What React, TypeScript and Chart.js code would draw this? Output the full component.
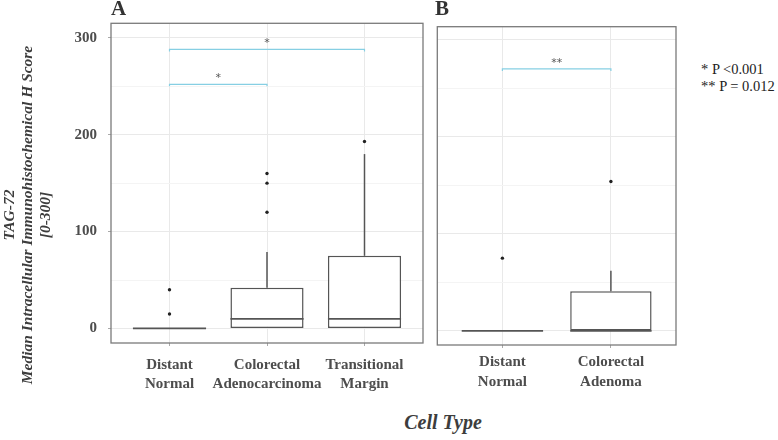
import React, { useEffect, useRef } from "react";
import { Chart, registerables } from "chart.js";

Chart.register(...registerables);

// ---------- data ----------
const categoriesA: string[][] = [
  ["Distant", "Normal"],
  ["Colorectal", "Adenocarcinoma"],
  ["Transitional", "Margin"],
];
const q1A = [0, 0, 0];
const medianA = [0, 10, 10];
const q3A = [0, 42, 75];
const whiskerLowA = [0, 0, 0];
const whiskerHighA = [0, 79, 180];
const outliersA: number[][] = [[40, 15], [160, 150, 120], [193]];
const bracketsA = [
  { from: 0, to: 1, y: 252, label: "*" },
  { from: 0, to: 2, y: 288, label: "*" },
];

const categoriesB: string[][] = [
  ["Distant", "Normal"],
  ["Colorectal", "Adenoma"],
];
const q1B = [0, 0];
const medianB = [0, 0];
const q3B = [0, 41];
const whiskerLowB = [0, 0];
const whiskerHighB = [0, 62];
const outliersB: number[][] = [[75], [154]];
const bracketsB = [{ from: 0, to: 1, y: 270, label: "**" }];

const yMajorTicks = [0, 100, 200, 300];
const yMinorTicks = [50, 150, 250];
const legendLines = ["* P <0.001", "** P = 0.012"];

// ---------- styles ----------
const SERIF = '"Liberation Serif", "Times New Roman", serif';
const MAJOR = "#e9e9e9";
const MINOR = "#f4f4f4";
const BOX = "#555555";
const BORDER = "#7a7a7a";
const BRACKET = "#86cfe3";
const TEXT = "#4d4d4d";

type Bracket = { from: number; to: number; y: number; label: string };

function boxPlugin(
  q1: number[],
  med: number[],
  q3: number[],
  lo: number[],
  hi: number[],
  brackets: Bracket[]
) {
  return {
    id: "boxExtras",
    afterDatasetsDraw(chart: any) {
      const { ctx, chartArea: a, scales } = chart;
      const xs = scales.x;
      const ys = scales.y;
      const meta = chart.getDatasetMeta(0);
      ctx.save();
      ctx.strokeStyle = BOX;
      for (let i = 0; i < med.length; i++) {
        const el: any = meta.data[i];
        const cx = xs.getPixelForValue(i);
        const half = el.width / 2;
        ctx.lineWidth = 1.5;
        ctx.beginPath();
        if (hi[i] > q3[i]) {
          ctx.moveTo(cx, ys.getPixelForValue(q3[i]));
          ctx.lineTo(cx, ys.getPixelForValue(hi[i]));
        }
        if (lo[i] < q1[i]) {
          ctx.moveTo(cx, ys.getPixelForValue(q1[i]));
          ctx.lineTo(cx, ys.getPixelForValue(lo[i]));
        }
        ctx.stroke();
        ctx.lineWidth = 1.7;
        const my = ys.getPixelForValue(med[i]);
        ctx.beginPath();
        ctx.moveTo(cx - half, my);
        ctx.lineTo(cx + half, my);
        ctx.stroke();
      }
      ctx.strokeStyle = BRACKET;
      ctx.lineWidth = 1.2;
      ctx.fillStyle = "#555";
      ctx.font = '11px "DejaVu Sans", sans-serif';
      ctx.textAlign = "center";
      ctx.textBaseline = "alphabetic";
      for (const b of brackets) {
        const x0 = xs.getPixelForValue(b.from);
        const x1 = xs.getPixelForValue(b.to);
        const by = ys.getPixelForValue(b.y);
        ctx.beginPath();
        ctx.moveTo(x0, by + 2);
        ctx.lineTo(x0, by);
        ctx.lineTo(x1, by);
        ctx.lineTo(x1, by + 2);
        ctx.stroke();
        ctx.fillText(b.label, (x0 + x1) / 2, by - 3);
      }
      ctx.strokeStyle = BORDER;
      ctx.lineWidth = 1.3;
      ctx.strokeRect(a.left, a.top, a.right - a.left, a.bottom - a.top);
      ctx.restore();
    },
  };
}

function makeConfig(opts: {
  cats: string[][];
  q1: number[];
  med: number[];
  q3: number[];
  lo: number[];
  hi: number[];
  outliers: number[][];
  brackets: Bracket[];
  yMin: number;
  yMax: number;
  showY: boolean;
  yWidth: number;
  xHeight: number;
  xPad: number;
  padding: { top: number; right: number; bottom: number; left: number };
}): any {
  const n = opts.cats.length;
  const idx = opts.cats.map((_, i) => i);
  const gridVals = [...yMajorTicks, ...yMinorTicks].sort((a, b) => a - b);
  const outPts: { x: number; y: number }[] = [];
  opts.outliers.forEach((arr, i) => arr.forEach((v) => outPts.push({ x: i, y: v })));
  return {
    type: "bar",
    data: {
      datasets: [
        {
          type: "bar",
          data: idx.map((i) => ({ x: i, y: [opts.q1[i], opts.q3[i]] })),
          backgroundColor: "#ffffff",
          borderColor: BOX,
          borderWidth: 1.5,
          borderSkipped: false,
          barPercentage: 0.75,
          categoryPercentage: 1,
          grouped: false,
          order: 2,
        },
        {
          type: "scatter",
          data: outPts,
          pointRadius: 1.7,
          pointBackgroundColor: "#222",
          pointBorderWidth: 0,
          showLine: false,
          order: 1,
        },
      ],
    },
    options: {
      responsive: false,
      animation: false,
      devicePixelRatio: 1,
      layout: { padding: opts.padding },
      plugins: { legend: { display: false }, tooltip: { enabled: false } },
      events: [],
      scales: {
        x: {
          type: "linear",
          min: -0.6,
          max: n - 1 + 0.6,
          offset: false,
          afterBuildTicks: (s: any) => {
            s.ticks = idx.map((v) => ({ value: v }));
          },
          afterFit: (s: any) => {
            s.height = opts.xHeight;
          },
          ticks: {
            autoSkip: false,
            maxRotation: 0,
            minRotation: 0,
            padding: opts.xPad,
            color: TEXT,
            font: { family: SERIF, size: 15, weight: "bold", lineHeight: 1.3 },
            callback: (v: number) => opts.cats[v] ?? "",
          },
          grid: {
            offset: false,
            color: MAJOR,
            lineWidth: 1,
            tickColor: "#aaa",
            tickLength: 3,
          },
          border: { display: false },
        },
        y: {
          type: "linear",
          min: opts.yMin,
          max: opts.yMax,
          afterBuildTicks: (s: any) => {
            s.ticks = gridVals.map((v) => ({ value: v }));
          },
          afterFit: (s: any) => {
            s.width = opts.yWidth;
          },
          ticks: {
            display: opts.showY,
            padding: 11,
            color: TEXT,
            font: { family: SERIF, size: 15, weight: "bold" },
            callback: (v: number) => (yMajorTicks.includes(v) ? String(v) : ""),
          },
          grid: {
            color: (c: any) => (c.tick && yMajorTicks.includes(c.tick.value) ? MAJOR : MINOR),
            lineWidth: 1,
            drawTicks: opts.showY,
            tickLength: 3,
            tickColor: (c: any) =>
              c.tick && yMajorTicks.includes(c.tick.value) ? "#aaa" : "rgba(0,0,0,0)",
          },
          border: { display: false },
        },
      },
    },
    plugins: [boxPlugin(opts.q1, opts.med, opts.q3, opts.lo, opts.hi, opts.brackets)],
  };
}

export default function App() {
  const refA = useRef<HTMLCanvasElement>(null);
  const refB = useRef<HTMLCanvasElement>(null);

  useEffect(() => {
    const chartA = new Chart(
      refA.current!,
      makeConfig({
        cats: categoriesA,
        q1: q1A,
        med: medianA,
        q3: q3A,
        lo: whiskerLowA,
        hi: whiskerHighA,
        outliers: outliersA,
        brackets: bracketsA,
        yMin: -15,
        yMax: 315,
        showY: true,
        yWidth: 111,
        xHeight: 57,
        xPad: 9.25,
        padding: { top: 23.3, right: 7, bottom: 0, left: 0 },
      })
    );
    const chartB = new Chart(
      refB.current!,
      makeConfig({
        cats: categoriesB,
        q1: q1B,
        med: medianB,
        q3: q3B,
        lo: whiskerLowB,
        hi: whiskerHighB,
        outliers: outliersB,
        brackets: bracketsB,
        yMin: -14.5,
        yMax: 313.5,
        showY: false,
        yWidth: 0,
        xHeight: 55,
        xPad: 4.5,
        padding: { top: 26.7, right: 4, bottom: 0, left: 7.3 },
      })
    );
    return () => {
      chartA.destroy();
      chartB.destroy();
    };
  }, []);

  return (
    <div
      style={{
        position: "absolute",
        left: 0,
        top: 0,
        width: 778,
        height: 440,
        background: "#fff",
        overflow: "hidden",
        fontFamily: SERIF,
      }}
    >
      <canvas ref={refA} width={430} height={400} style={{ position: "absolute", left: 0, top: 0 }} />
      <canvas ref={refB} width={250} height={400} style={{ position: "absolute", left: 430, top: 0 }} />
      <div
        style={{
          position: "absolute",
          left: 111,
          top: -2,
          fontSize: 21,
          lineHeight: "21px",
          fontWeight: "bold",
          color: "#333",
        }}
      >
        A
      </div>
      <div
        style={{
          position: "absolute",
          left: 435,
          top: -2,
          fontSize: 21,
          lineHeight: "21px",
          fontWeight: "bold",
          color: "#333",
        }}
      >
        B
      </div>
      <div
        style={{
          position: "absolute",
          left: 27 - 200,
          top: 215 - 27,
          width: 400,
          height: 54,
          fontSize: 15.5,
          lineHeight: "18px",
          fontWeight: "bold",
          fontStyle: "italic",
          color: "#3d3d3d",
          textAlign: "center",
          transform: "rotate(-90deg)",
          transformOrigin: "50% 50%",
          whiteSpace: "nowrap",
        }}
      >
        <div>TAG-72</div>
        <div>Median Intracellular Immunohistochemical H Score</div>
        <div>[0-300]</div>
      </div>
      <div
        style={{
          position: "absolute",
          left: 343,
          top: 412,
          width: 200,
          textAlign: "center",
          fontSize: 20,
          lineHeight: "20px",
          fontWeight: "bold",
          fontStyle: "italic",
          color: "#3d3d3d",
        }}
      >
        Cell Type
      </div>
      <div
        style={{
          position: "absolute",
          left: 701,
          top: 61,
          fontSize: 14.5,
          lineHeight: "17px",
          color: "#222",
          whiteSpace: "nowrap",
        }}
      >
        {legendLines.map((l) => (
          <div key={l}>{l}</div>
        ))}
      </div>
    </div>
  );
}
